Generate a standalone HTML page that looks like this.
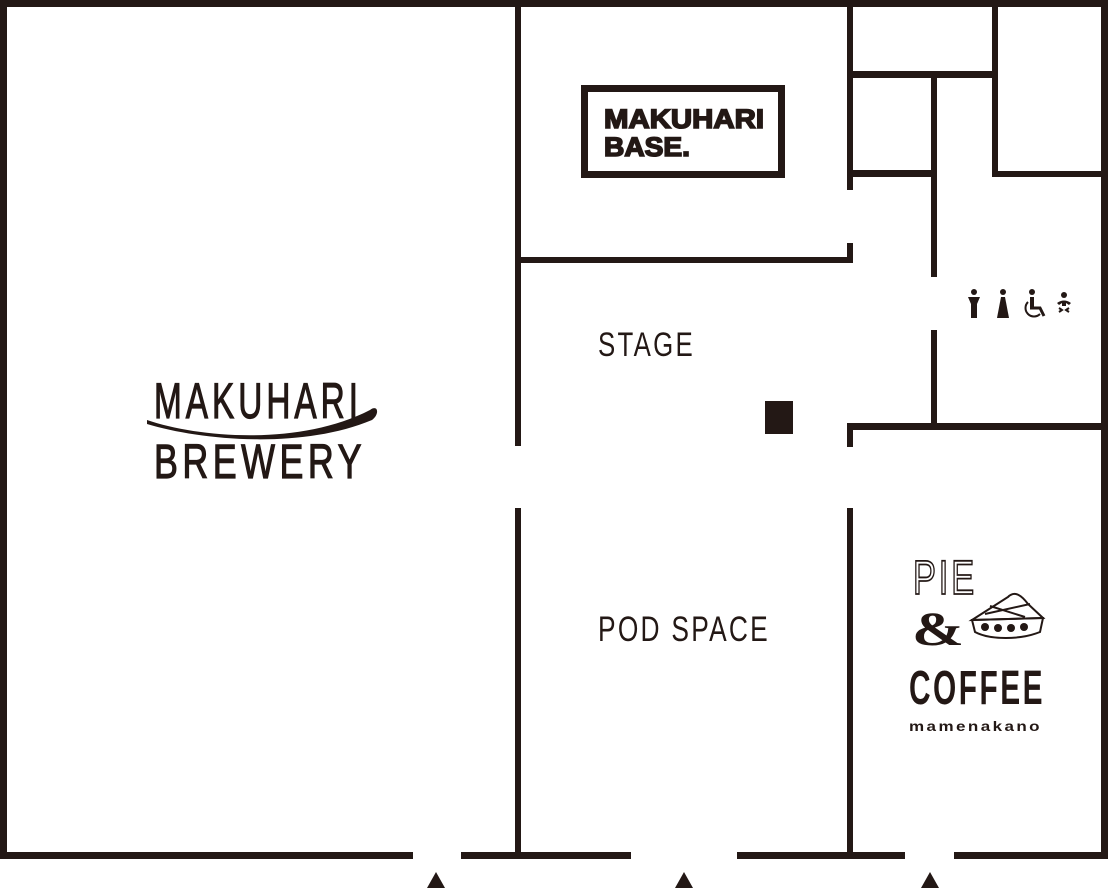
<!DOCTYPE html>
<html><head><meta charset="utf-8"><style>html,body{margin:0;padding:0;background:#fff}svg{display:block}</style></head>
<body>
<svg width="1108" height="888" viewBox="0 0 1108 888" xmlns="http://www.w3.org/2000/svg">
<g fill="#231815">
<rect x="0" y="0" width="1108" height="7"/>
<rect x="0" y="0" width="7" height="859"/>
<rect x="1101" y="0" width="7" height="859"/>
<rect x="0" y="852" width="413" height="7"/>
<rect x="461" y="852" width="170" height="7"/>
<rect x="737" y="852" width="168" height="7"/>
<rect x="954" y="852" width="154" height="7"/>
<rect x="515" y="0" width="6" height="446"/>
<rect x="515" y="508" width="6" height="351"/>
<rect x="515" y="257" width="338" height="6"/>
<rect x="847" y="0" width="6" height="190"/>
<rect x="847" y="243" width="6" height="20"/>
<rect x="847" y="423" width="6" height="24"/>
<rect x="847" y="508" width="6" height="351"/>
<rect x="847" y="423" width="261" height="7"/>
<rect x="847" y="71" width="151" height="7"/>
<rect x="992" y="0" width="6" height="177"/>
<rect x="992" y="171" width="116" height="6"/>
<rect x="847" y="170" width="90" height="7"/>
<rect x="931" y="71" width="6" height="206"/>
<rect x="931" y="330" width="6" height="96"/>
<rect x="765" y="401" width="28" height="33"/>
<polygon points="427,888 436,872 445,888"/>
<polygon points="675,888 684,872 693,888"/>
<polygon points="921,888 930,872 939,888"/>
</g>
<rect x="584.5" y="88.5" width="197" height="86" fill="none" stroke="#231815" stroke-width="7"/>
<g font-family="Liberation Sans, sans-serif" font-weight="bold" fill="#231815" stroke="#231815" stroke-width="1.6">
<text x="604" y="128" font-size="27" textLength="160" lengthAdjust="spacingAndGlyphs">MAKUHARI</text>
<text x="604" y="156" font-size="27" textLength="86" lengthAdjust="spacingAndGlyphs">BASE.</text>
</g>
<g font-family="Liberation Sans, sans-serif" fill="#231815">
<text x="598" y="356" font-size="34" textLength="97" lengthAdjust="spacingAndGlyphs" letter-spacing="3">STAGE</text>
<text x="598" y="641" font-size="35" textLength="172" lengthAdjust="spacingAndGlyphs" letter-spacing="3">POD SPACE</text>
</g>
<g font-family="Liberation Sans, sans-serif" fill="#231815" stroke="#231815" stroke-width="1.2">
<text x="154" y="418" font-size="50" textLength="208" lengthAdjust="spacingAndGlyphs" letter-spacing="6">MAKUHARI</text>
<text x="154" y="478" font-size="48" textLength="212" lengthAdjust="spacingAndGlyphs" letter-spacing="6">BREWERY</text>
</g>
<path d="M147,420 C200,438 300,446 370,410 C378,404 380,414 372,420 C300,450 200,440 147,424 Z" fill="#231815"/>
<g fill="#231815">
<circle cx="974" cy="292" r="3"/>
<path d="M968,297 H980 L977,304 V318 H971 V304 Z"/>
<circle cx="1003" cy="292" r="3"/>
<path d="M1001,297 H1005 L1009,318 H997 Z"/>
<circle cx="1032" cy="292" r="3"/>
<rect x="1030" y="297" width="4" height="11"/>
<path d="M1030,308 H1040 L1044,316" stroke="#231815" stroke-width="3" fill="none"/>
<path d="M1028,302 A8,8 0 1 0 1040,314" stroke="#231815" stroke-width="2" fill="none"/>
<circle cx="1064" cy="295" r="3"/>
<path d="M1057,303 Q1064,298 1071,303 L1069,305 L1066,303 V306 H1062 V303 L1059,305 Z"/>
<path d="M1059,308 L1062,310 L1059,312 M1069,308 L1066,310 L1069,312" stroke="#231815" stroke-width="2" fill="none"/>
</g>
<g fill="none" stroke="#231815" stroke-width="2">
<text x="913" y="594" font-family="Liberation Sans, sans-serif" font-size="48" fill="none" stroke="#231815" stroke-width="1.8" textLength="64" lengthAdjust="spacingAndGlyphs" letter-spacing="4">PIE</text>
<path d="M972,620 L1008,597 C1015,590 1022,596 1028,604 L1043,618 Z"/>
<path d="M972,620 L1043,618 L1040,632 C1020,640 990,640 975,632 Z"/>
<path d="M985,614 L1030,604 M990,606 L1025,617"/>
</g>
<g fill="#231815">
<circle cx="985" cy="627" r="4"/><circle cx="998" cy="628" r="4"/><circle cx="1011" cy="628" r="4"/><circle cx="1024" cy="627" r="4"/>
<text x="912" y="645" font-family="Liberation Serif, serif" font-weight="bold" font-size="48" textLength="52" lengthAdjust="spacingAndGlyphs">&amp;</text>
<text x="909" y="704" font-family="Liberation Sans, sans-serif" font-weight="bold" font-size="48" textLength="136" lengthAdjust="spacingAndGlyphs" letter-spacing="4">COFFEE</text>
<text x="909" y="731" font-family="Liberation Sans, sans-serif" font-weight="bold" font-size="14" textLength="133" lengthAdjust="spacingAndGlyphs" letter-spacing="2">mamenakano</text>
</g>
</svg>
</body></html>
